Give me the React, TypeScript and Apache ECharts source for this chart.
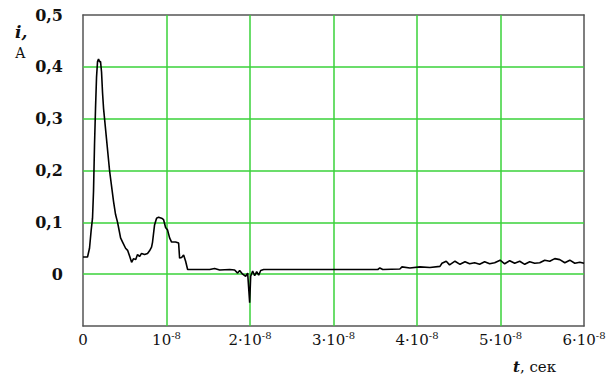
import React, { useEffect, useRef } from "react";
import * as echarts from "echarts";

// Time in units of 1e-8 s, current in A
const timeUnits: number[] = [
  0, 0.054, 0.078, 0.098, 0.114, 0.126, 0.138, 0.15, 0.162, 0.174, 0.186, 0.198, 0.21, 0.222,
  0.234, 0.246, 0.258, 0.282, 0.318, 0.342, 0.366, 0.39, 0.414, 0.426, 0.45, 0.474, 0.51, 0.534,
  0.558, 0.582, 0.606, 0.63, 0.653, 0.677, 0.701, 0.737, 0.773, 0.797, 0.821, 0.833, 0.857, 0.881,
  0.905, 0.941, 0.965, 0.989, 1.013, 1.037, 1.061, 1.109, 1.145, 1.157, 1.181, 1.205, 1.229, 1.253,
  1.397, 1.517, 1.576, 1.637, 1.757, 1.816, 1.852, 1.876, 1.912, 1.948, 1.972, 1.996, 2.008, 2.032,
  2.056, 2.08, 2.104, 2.128, 2.164, 2.596, 3.195, 3.531, 3.555, 3.59, 3.795, 3.82, 3.915, 4.035,
  4.155, 4.275, 4.299, 4.35, 4.39, 4.455, 4.515, 4.575, 4.63, 4.69, 4.75, 4.81, 4.87, 4.93, 4.995,
  5.05, 5.11, 5.17, 5.23, 5.29, 5.35, 5.41, 5.47, 5.53, 5.59, 5.65, 5.71, 5.77, 5.83, 5.89, 5.95, 6.0,
];

const currentA: number[] = [
  0.033, 0.033, 0.05, 0.085, 0.108, 0.16, 0.25, 0.32, 0.38, 0.41, 0.415, 0.41, 0.41, 0.39,
  0.35, 0.32, 0.3, 0.26, 0.2, 0.17, 0.14, 0.115, 0.1, 0.09, 0.07, 0.062, 0.05, 0.046,
  0.035, 0.023, 0.03, 0.028, 0.038, 0.034, 0.04, 0.038, 0.04, 0.045, 0.052, 0.062, 0.095, 0.108,
  0.11, 0.108, 0.105, 0.09, 0.085, 0.07, 0.062, 0.062, 0.06, 0.031, 0.032, 0.037, 0.025, 0.009,
  0.009, 0.009, 0.011, 0.008, 0.009, 0.008, 0.002, 0.007, 0.0, -0.004, 0.002, -0.055, -0.004, 0.006,
  -0.003, 0.005, -0.002, 0.007, 0.009, 0.009, 0.009, 0.009, 0.012, 0.009, 0.01, 0.014, 0.012, 0.014,
  0.013, 0.015, 0.021, 0.025, 0.018, 0.025, 0.019, 0.024, 0.02, 0.022, 0.019, 0.024, 0.02, 0.022, 0.027,
  0.02, 0.026, 0.021, 0.025, 0.019, 0.024, 0.021, 0.022, 0.027, 0.025, 0.03, 0.028, 0.022, 0.027, 0.021, 0.023, 0.021,
];

// Grid lines
const gridTimes: number[] = [1, 2, 3, 4, 5];
const gridCurrents: number[] = [0, 0.1, 0.2, 0.3, 0.4];

// Tick labels
const yTickLabels: Record<string, string> = {
  "0.5": "0,5",
  "0.4": "0,4",
  "0.3": "0,3",
  "0.2": "0,2",
  "0.1": "0,1",
  "0": "0",
};

const SERIF = "DejaVu Serif";

export default function App() {
  const ref = useRef<HTMLDivElement>(null);

  useEffect(() => {
    if (!ref.current) return;
    const chart = echarts.init(ref.current, undefined, { renderer: "svg" });
    const data = timeUnits.map((t, k) => [t, currentA[k]]);

    const borderAxis = {
      show: true,
      axisLine: { show: true, onZero: false, lineStyle: { color: "#555", width: 1.5 } },
      axisTick: { show: false },
      axisLabel: { show: false },
      splitLine: { show: false },
    };

    chart.setOption({
      animation: false,
      backgroundColor: "#fff",
      textStyle: { fontFamily: SERIF },
      grid: { left: 83, right: 27, top: 15, bottom: 52 },
      xAxis: [
        {
          type: "value",
          min: 0,
          max: 6,
          interval: 1,
          axisLine: { show: true, onZero: false, lineStyle: { color: "#555", width: 1.5 } },
          axisTick: { show: false },
          splitLine: { show: false },
          axisLabel: {
            margin: 4,
            color: "#111",
            fontFamily: SERIF,
            fontSize: 15,
            formatter: (v: number) => {
              const n = Math.round(v);
              if (n === 0) return "{b|0}";
              if (n === 1) return "{b|10}{s|-8}";
              return `{b|${n}·10}{s|-8}`;
            },
            rich: {
              b: { fontFamily: SERIF, fontSize: 15, color: "#111", lineHeight: 20 },
              s: { fontFamily: SERIF, fontSize: 10, color: "#111", verticalAlign: "top", lineHeight: 10 },
            },
          },
        },
        { ...borderAxis, type: "value", position: "top", min: 0, max: 6 },
      ],
      yAxis: [
        {
          type: "value",
          min: -0.1,
          max: 0.5,
          interval: 0.1,
          axisLine: { show: true, onZero: false, lineStyle: { color: "#555", width: 1.5 } },
          axisTick: { show: false },
          splitLine: { show: false },
          axisLabel: {
            margin: 20,
            color: "#111",
            fontFamily: SERIF,
            fontSize: 16,
            fontWeight: "bold",
            formatter: (v: number) => {
              const key = String(Math.round(v * 10) / 10);
              return yTickLabels[key] ?? "";
            },
          },
        },
        { ...borderAxis, type: "value", position: "right", min: -0.1, max: 0.5 },
      ],
      graphic: [
        {
          type: "text",
          left: 15,
          top: 23,
          style: {
            text: "i,",
            fontFamily: SERIF,
            fontSize: 17,
            fontStyle: "italic",
            fontWeight: "bold",
            fill: "#111",
          },
        },
        {
          type: "text",
          left: 15,
          top: 46,
          style: {
            text: "А",
            fontFamily: SERIF,
            fontSize: 14,
            fill: "#111",
          },
        },
        {
          type: "text",
          left: 513,
          top: 359,
          style: {
            text: "{t|t}{r|, сек}",
            rich: {
              t: { fontFamily: SERIF, fontSize: 15, fontStyle: "italic", fontWeight: "bold", fill: "#111" },
              r: { fontFamily: SERIF, fontSize: 15, fill: "#111" },
            },
          },
        },
      ],
      series: [
        {
          type: "line",
          data: [],
          z: 1,
          silent: true,
          markLine: {
            silent: true,
            symbol: "none",
            label: { show: false },
            lineStyle: { color: "#3ad23a", width: 1.5, type: "solid" },
            data: [
              ...gridTimes.map((v) => ({ xAxis: v })),
              ...gridCurrents.map((v) => ({ yAxis: v })),
            ],
          },
        },
        {
          type: "line",
          data,
          z: 10,
          showSymbol: false,
          symbol: "none",
          silent: true,
          lineStyle: { color: "#000", width: 1.6 },
        },
      ],
    });

    return () => chart.dispose();
  }, []);

  return (
    <div
      ref={ref}
      style={{ position: "fixed", left: 0, top: 0, width: 611, height: 378, background: "#fff" }}
    />
  );
}
